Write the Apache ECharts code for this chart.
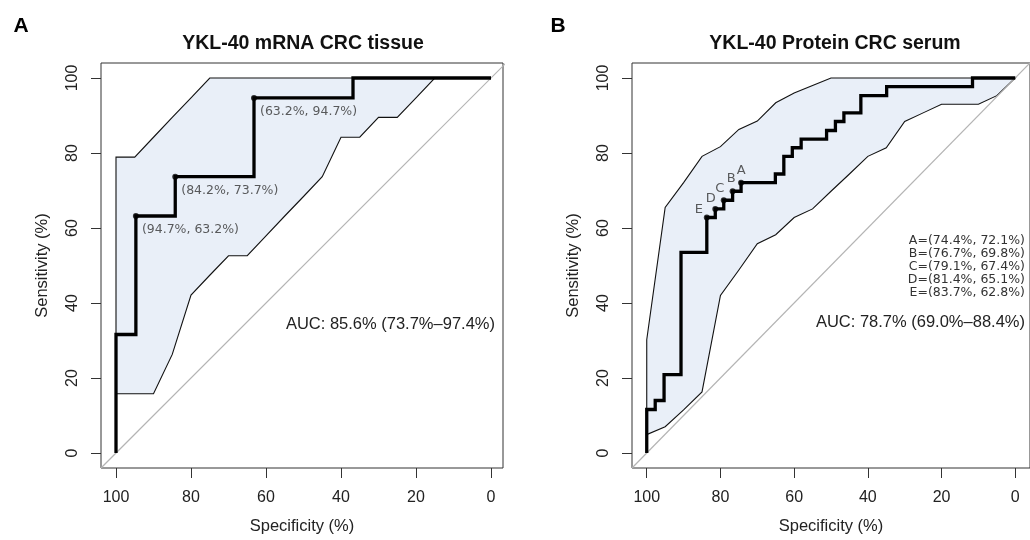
<!DOCTYPE html>
<html>
<head>
<meta charset="utf-8">
<script src="https://cdn.jsdelivr.net/npm/echarts@6/dist/echarts.min.js"></script>
<style>
  html, body { margin: 0; padding: 0; background: #fff; }
  #chart { width: 1030px; height: 540px; }
</style>
</head>
<body>
<div id="chart"></div>
<script>
// tick labels shared by both panels
var tickVals = [0, 20, 40, 60, 80, 100];

// specificities at which the CI band of sensitivity was computed
var bandSpec = [100, 95, 90, 85, 80, 75, 70, 65, 60, 55, 50, 45, 40, 35, 30, 25, 20, 15, 10, 5, 0];

// A: YKL-40 mRNA CRC tissue
var upperA = [78.9, 78.9, 84.2, 89.5, 94.7, 100, 100, 100, 100, 100, 100, 100, 100, 100, 100, 100, 100, 100, 100, 100, 100];
var lowerA = [15.8, 15.8, 15.8, 26.3, 42.1, 47.4, 52.6, 52.6, 57.9, 63.2, 68.4, 73.7, 84.2, 84.2, 89.5, 89.5, 94.7, 100, 100, 100, 100];
var rocSpecA = [100, 100, 94.7, 94.7, 84.2, 84.2, 63.2, 63.2, 36.8, 36.8, 0];
var rocSensA = [0, 31.6, 31.6, 63.2, 63.2, 73.7, 73.7, 94.7, 94.7, 100, 100];
var thrSpecA = [94.7, 84.2, 63.2];
var thrSensA = [63.2, 73.7, 94.7];
var aucA = "AUC: 85.6% (73.7%\u201397.4%)";

// B: YKL-40 Protein CRC serum
var upperB = [30.2, 65.5, 72.1, 79.1, 81.7, 86.3, 88.5, 93.4, 96.0, 98.0, 100, 100, 100, 100, 100, 100, 100, 100, 100, 100, 100];
var lowerB = [4.9, 7.0, 11.5, 16.3, 42.0, 48.8, 55.8, 58.2, 62.8, 65.1, 69.8, 74.4, 79.1, 81.4, 88.4, 90.7, 93.0, 93.0, 93.0, 95.3, 100];
var rocSpecB = [100, 100, 97.7, 97.7, 95.3, 95.3, 90.7, 90.7, 83.7, 83.7, 81.4, 81.4, 79.1, 79.1, 76.7, 76.7, 74.4, 74.4,
  65.1, 65.1, 62.8, 62.8, 60.5, 60.5, 58.1, 58.1, 51.2, 51.2, 48.8, 48.8, 46.5, 46.5, 41.9, 41.9, 34.9, 34.9, 11.6, 11.6, 0];
var rocSensB = [0, 11.6, 11.6, 14.0, 14.0, 20.9, 20.9, 53.5, 53.5, 62.8, 62.8, 65.1, 65.1, 67.4, 67.4, 69.8, 69.8, 72.1,
  72.1, 74.4, 74.4, 79.1, 79.1, 81.4, 81.4, 83.7, 83.7, 86.0, 86.0, 88.4, 88.4, 90.7, 90.7, 95.3, 95.3, 97.7, 97.7, 100, 100];
var thrNameB = ["A", "B", "C", "D", "E"];
var thrSpecB = [74.4, 76.7, 79.1, 81.4, 83.7];
var thrSensB = [72.1, 69.8, 67.4, 65.1, 62.8];
var aucB = "AUC: 78.7% (69.0%\u201388.4%)";

// letter label nudges for panel B (px)
var letterShiftB = [[0, 0], [-1.5, 0], [-4, 1], [-4.5, 2.5], [-8, 5]];

var chart = echarts.init(document.getElementById("chart"));

var pct = function (v) { return v.toFixed(1) + "%"; };

function zip(xs, ys) {
  return xs.map(function (x, i) { return [x, ys[i]]; });
}

// CI band as one polygon (upper edge forward, lower edge back)
function bandSeries(idx, lo, hi) {
  return {
    type: "custom",
    xAxisIndex: idx,
    yAxisIndex: idx,
    data: [0],
    silent: true,
    z: 1,
    renderItem: function (params, api) {
      var pts = [];
      for (var i = 0; i < bandSpec.length; i++) pts.push(api.coord([bandSpec[i], hi[i]]));
      for (var j = bandSpec.length - 1; j >= 0; j--) pts.push(api.coord([bandSpec[j], lo[j]]));
      return {
        type: "polygon",
        shape: { points: pts },
        style: { fill: "#e9eff8", stroke: "#111", lineWidth: 1.1 }
      };
    }
  };
}

function diagSeries(idx) {
  return {
    type: "line",
    xAxisIndex: idx,
    yAxisIndex: idx,
    data: [[104, -4], [-4, 104]],
    symbol: "none",
    silent: true,
    clip: true,
    z: 2,
    lineStyle: { color: "#b4b4b4", width: 1.2 }
  };
}

function rocSeries(idx, xs, ys) {
  return {
    type: "line",
    xAxisIndex: idx,
    yAxisIndex: idx,
    data: zip(xs, ys),
    symbol: "none",
    silent: true,
    z: 4,
    lineStyle: { color: "#000", width: 3.3, join: "miter" }
  };
}

function xAx(idx, min) {
  return {
    type: "value",
    gridIndex: idx,
    inverse: true,
    min: min,
    max: 104,
    axisLine: { show: false, onZero: false },
    axisTick: { show: true, length: 10, customValues: tickVals, lineStyle: { color: "#333", width: 1 } },
    axisLabel: { customValues: tickVals, margin: 22, fontSize: 16, fontFamily: "Liberation Sans", color: "#222" },
    splitLine: { show: false },
    name: "Specificity (%)",
    nameLocation: "middle",
    nameGap: 50,
    nameTextStyle: { fontSize: 16.5, fontFamily: "Liberation Sans", color: "#222" }
  };
}

function yAx(idx) {
  return {
    type: "value",
    gridIndex: idx,
    min: -4,
    max: 104,
    axisLine: { show: false, onZero: false },
    axisTick: { show: true, length: 10, customValues: tickVals, lineStyle: { color: "#333", width: 1 } },
    axisLabel: { customValues: tickVals, rotate: 90, margin: 20, fontSize: 16, fontFamily: "Liberation Sans", color: "#222" },
    splitLine: { show: false },
    name: "Sensitivity (%)",
    nameLocation: "middle",
    nameRotate: 90,
    nameGap: 50,
    nameTextStyle: { fontSize: 16.5, fontFamily: "Liberation Sans", color: "#222" }
  };
}

function txt(x, y, s, size, opts) {
  opts = opts || {};
  return {
    type: "text",
    x: x,
    y: y,
    silent: true,
    style: {
      text: s,
      fontSize: size,
      fontFamily: opts.family || "Liberation Sans",
      fontWeight: opts.weight || "normal",
      fill: opts.color || "#111",
      align: opts.align || "center",
      verticalAlign: opts.valign || "middle",
      lineHeight: opts.lineHeight
    }
  };
}

var legendB = thrNameB.map(function (n, i) {
  return n + "=(" + pct(thrSpecB[i]) + ", " + pct(thrSensB[i]) + ")";
}).join("\n");

var option = {
  backgroundColor: "#fff",
  animation: false,
  grid: [
    { left: 101, top: 63, width: 402, height: 407, show: true, borderColor: "#333", borderWidth: 1, backgroundColor: "transparent" },
    { left: 632, top: 63, width: 405, height: 407, show: true, borderColor: "#333", borderWidth: 1, backgroundColor: "transparent" }
  ],
  xAxis: [xAx(0, -3.2), xAx(1, -4)],
  yAxis: [yAx(0), yAx(1)],
  graphic: [
    txt(21, 26, "A", 21, { weight: "bold", color: "#000" }),
    txt(558, 26, "B", 21, { weight: "bold", color: "#000" }),
    txt(303, 44, "YKL-40 mRNA CRC tissue", 19.5, { weight: "bold", color: "#111" }),
    txt(835, 44, "YKL-40 Protein CRC serum", 19.5, { weight: "bold", color: "#111" }),
    txt(495, 324, aucA, 16.5, { align: "right", color: "#222" }),
    txt(1025, 322, aucB, 16.5, { align: "right", color: "#222" }),
    txt(1025, 234, legendB, 12.5, { align: "right", valign: "top", family: "DejaVu Sans", color: "#333", lineHeight: 13.1 })
  ],
  series: [
    bandSeries(0, lowerA, upperA),
    bandSeries(1, lowerB, upperB),
    diagSeries(0),
    diagSeries(1),
    rocSeries(0, rocSpecA, rocSensA),
    rocSeries(1, rocSpecB, rocSensB),
    {
      type: "scatter",
      xAxisIndex: 0,
      yAxisIndex: 0,
      data: zip(thrSpecA, thrSensA),
      symbolSize: 6,
      silent: true,
      z: 5,
      itemStyle: { color: "#000" },
      label: {
        show: true,
        position: "right",
        distance: 3,
        offset: [0, 14],
        fontFamily: "DejaVu Sans",
        fontSize: 12.5,
        color: "#333",
        formatter: function (p) { return "(" + pct(p.value[0]) + ", " + pct(p.value[1]) + ")"; }
      }
    },
    {
      type: "scatter",
      xAxisIndex: 1,
      yAxisIndex: 1,
      data: zip(thrSpecB, thrSensB).map(function (v, i) {
        return { value: v, label: { offset: letterShiftB[i] } };
      }),
      symbolSize: 6,
      silent: true,
      z: 5,
      itemStyle: { color: "#000" },
      label: {
        show: true,
        position: "top",
        distance: 3,
        fontFamily: "DejaVu Sans",
        fontSize: 13,
        color: "#333",
        formatter: function (p) { return thrNameB[p.dataIndex]; }
      }
    }
  ]
};

chart.setOption(option);
</script>
</body>
</html>
